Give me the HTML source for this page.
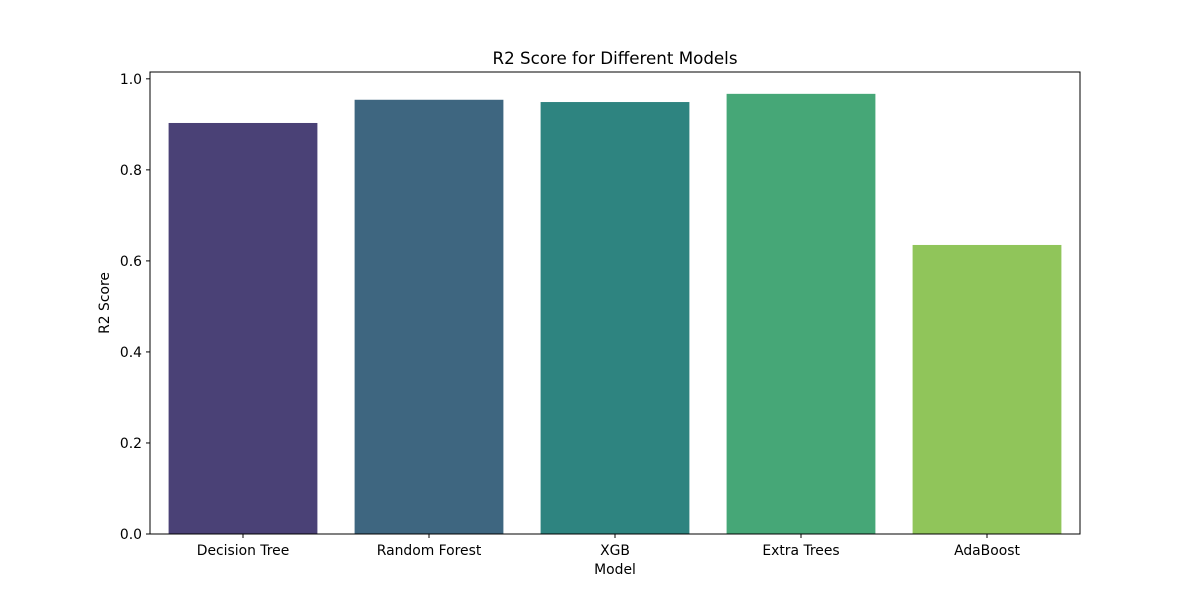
<!DOCTYPE html>
<html><head><meta charset="utf-8"><style>
body{margin:0;background:#fff}
svg{display:block;font-family:"DejaVu Sans","Liberation Sans",sans-serif}
</style></head><body>
<svg id="chart" width="1200" height="600">
<rect width="1200" height="600" fill="#fff"/>
<text x="615" y="64" text-anchor="middle" font-size="16.7">R2 Score for Different Models</text>
<g id="bars"></g>
<g id="yaxis"></g>
<g id="xaxis"></g>
<rect x="150" y="72" width="930" height="462" fill="none" stroke="#000" stroke-width="1"/>
<text x="615" y="574" text-anchor="middle" font-size="13.9">Model</text>
<text transform="translate(109,303) rotate(-90)" text-anchor="middle" font-size="13.9">R2 Score</text>
</svg>
<script>
const categories=["Decision Tree","Random Forest","XGB","Extra Trees","AdaBoost"];
const values=[0.903,0.954,0.949,0.967,0.635];
const colors=["#4a4176","#3e6680","#2e8480","#46a777","#90c55a"];
const yTicks=[0,0.2,0.4,0.6,0.8,1.0];
const yTickLabels=["0.0","0.2","0.4","0.6","0.8","1.0"];
const NS="http://www.w3.org/2000/svg";
const L=150,R=1080,T=72,B=534,yMax=1.015;
const y=v=>B-(v/yMax)*(B-T);
const step=(R-L)/categories.length;
const xc=i=>L+step*(i+0.5);
function mk(t,a,p){const e=document.createElementNS(NS,t);for(const k in a)e.setAttribute(k,a[k]);p.appendChild(e);return e;}
const gb=document.getElementById('bars'),gy=document.getElementById('yaxis'),gx=document.getElementById('xaxis');
categories.forEach((c,i)=>{
 const w=step*0.8;
 const r=mk('rect',{x:xc(i)-w/2,y:y(values[i]),width:w,height:B-y(values[i]),fill:colors[i]},gb);
 
 
 mk('line',{x1:xc(i),x2:xc(i),y1:B,y2:B+4,stroke:'#000'},gx);
 const t=mk('text',{x:xc(i),y:B+21,'text-anchor':'middle','font-size':13.9},gx);
 t.textContent=c;
 
 
});
yTicks.forEach((v,i)=>{
 mk('line',{x1:L-4,x2:L,y1:y(v),y2:y(v),stroke:'#000'},gy);
 const t=mk('text',{x:L-8,y:y(v)+5,'text-anchor':'end','font-size':13.9},gy);
 t.textContent=yTickLabels[i];
 
 
});
</script>
</body></html>
